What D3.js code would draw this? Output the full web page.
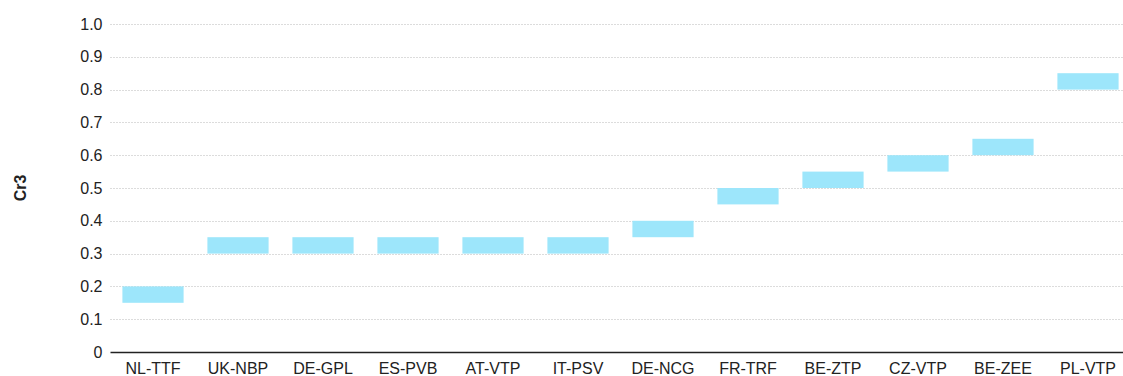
<!DOCTYPE html>
<html>
<head>
<meta charset="utf-8">
<script src="https://cdn.jsdelivr.net/npm/d3@7"></script>
<style>
  html, body { margin: 0; padding: 0; background: #fff; }
  svg { display: block; font-family: "Liberation Sans", Arial, sans-serif; }
</style>
</head>
<body>
<svg id="chart" width="1123" height="376"></svg>
<script>
// Hub names, in display order
const hubs = ["NL-TTF", "UK-NBP", "DE-GPL", "ES-PVB", "AT-VTP", "IT-PSV",
              "DE-NCG", "FR-TRF", "BE-ZTP", "CZ-VTP", "BE-ZEE", "PL-VTP"];
// Lower and upper bounds of the Cr3 range for each hub
const cr3Low  = [0.15, 0.30, 0.30, 0.30, 0.30, 0.30, 0.35, 0.45, 0.50, 0.55, 0.60, 0.80];
const cr3High = [0.20, 0.35, 0.35, 0.35, 0.35, 0.35, 0.40, 0.50, 0.55, 0.60, 0.65, 0.85];
// Y-axis tick values
const yTicks = [0, 0.1, 0.2, 0.3, 0.4, 0.5, 0.6, 0.7, 0.8, 0.9, 1.0];

const svg = d3.select("#chart");
const plotLeft = 110.5, plotRight = 1130.5, plotTop = 24, plotBottom = 352;

const x = d3.scaleBand().domain(hubs).range([plotLeft, plotRight]).paddingInner(0.28).paddingOuter(0.14);
const y = d3.scaleLinear().domain([0, 1]).range([plotBottom, plotTop]);

// Dotted horizontal gridlines
svg.append("g")
  .selectAll("line")
  .data(yTicks.filter(d => d > 0))
  .join("line")
  .attr("x1", plotLeft).attr("x2", 1123)
  .attr("y1", d => Math.round(y(d)) + 0.5).attr("y2", d => Math.round(y(d)) + 0.5)
  .attr("stroke", "#b8b8b8").attr("stroke-width", 1)
  .attr("stroke-dasharray", "1,2");

// Range bars
const data = hubs.map((h, i) => ({ hub: h, lo: cr3Low[i], hi: cr3High[i] }));
svg.append("g")
  .selectAll("rect")
  .data(data)
  .join("rect")
  .attr("x", d => x(d.hub))
  .attr("width", x.bandwidth())
  .attr("y", d => y(d.hi))
  .attr("height", d => y(d.lo) - y(d.hi))
  .attr("fill", "#9de6fb");

// Y axis labels
const yAxis = d3.axisLeft(y).tickValues(yTicks)
  .tickFormat(d => d === 0 ? "0" : d3.format(".1f")(d))
  .tickSize(0).tickPadding(8);
const yg = svg.append("g").attr("transform", `translate(${plotLeft},0)`).call(yAxis);
yg.select(".domain").remove();
yg.selectAll("text").attr("font-size", 16).attr("fill", "#222")
  .attr("font-family", "'Liberation Sans', Arial, sans-serif");

// X axis with baseline
const xAxis = d3.axisBottom(x).tickSize(0).tickPadding(11);
const xg = svg.append("g").attr("transform", `translate(0,${plotBottom})`).call(xAxis);
xg.select(".domain").remove();
xg.selectAll("text").attr("font-size", 16).attr("fill", "#222")
  .attr("font-family", "'Liberation Sans', Arial, sans-serif");
svg.append("line")
  .attr("x1", plotLeft).attr("x2", 1123)
  .attr("y1", plotBottom + 0.5).attr("y2", plotBottom + 0.5)
  .attr("stroke", "#222").attr("stroke-width", 1.5);

// Y axis title
svg.append("text")
  .attr("transform", `translate(26,${(plotTop + plotBottom) / 2}) rotate(-90)`)
  .attr("text-anchor", "middle")
  .attr("font-size", 16).attr("font-weight", "bold").attr("fill", "#222")
  .text("Cr3");
</script>
</body>
</html>
